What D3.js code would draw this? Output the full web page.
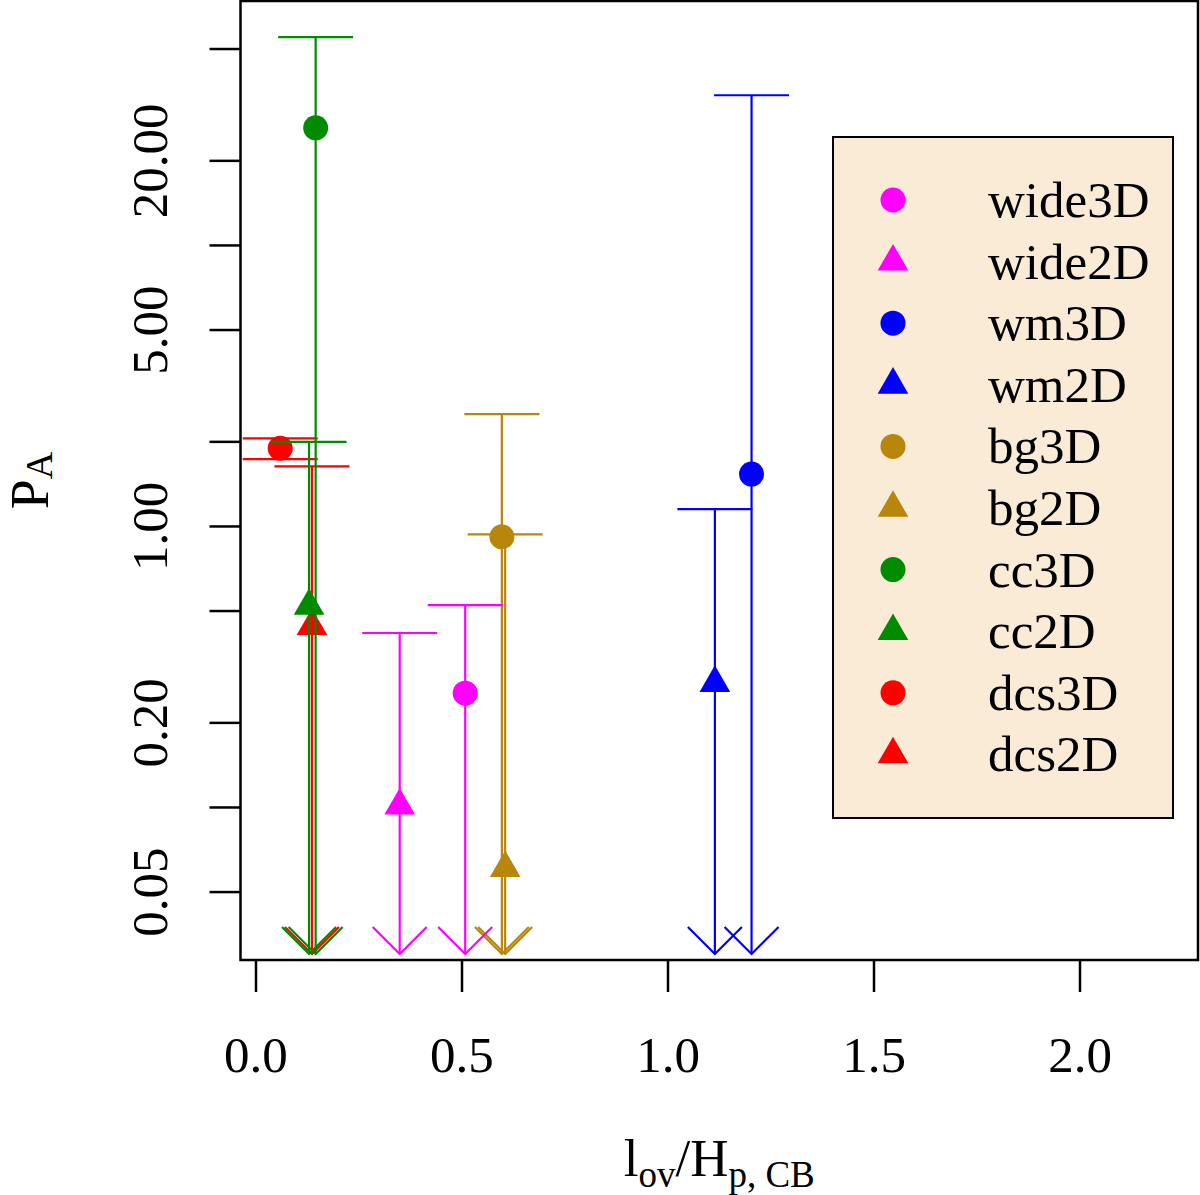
<!DOCTYPE html>
<html>
<head>
<meta charset="utf-8">
<script src="https://cdn.jsdelivr.net/npm/d3@7"></script>
<style>
  html, body { margin: 0; padding: 0; background: #fff; }
  svg { display: block; }
</style>
</head>
<body>
<svg></svg>
<script>
// constants
const WIDTH = 1200;
const HEIGHT = 1195;
const BOX = {left: 240.5, right: 1198, top: 1, bottom: 960};
const FONT = '"Liberation Serif", "Times New Roman", serif';
const FONT_SIZE = 51;

// data
const series = ['wide3D', 'wide2D', 'wm3D', 'wm2D', 'bg3D', 'bg2D', 'cc3D', 'cc2D', 'dcs3D', 'dcs2D'];
const seriesColors = ['#FF00FF', '#FF00FF', '#0000FF', '#0000FF', '#B8860B', '#B8860B', '#008B00', '#008B00', '#FF0000', '#FF0000'];
const shapes = ['circle', 'triangle', 'circle', 'triangle', 'circle', 'triangle', 'circle', 'triangle', 'circle', 'triangle'];
const xValues = [0.509, 0.350, 1.204, 1.115, 0.598, 0.606, 0.146, 0.130, 0.060, 0.137];
const yValues = [0.254, 0.101, 1.53, 0.276, 0.915, 0.0606, 26.1, 0.519, 1.89, 0.440];
const upperValues = [0.523, 0.416, 34.1, 1.148, 2.50, 0.933, 54.9, 1.99, 2.05, 1.63];
const lowerValues = [0.03, 0.03, 0.03, 0.03, 0.03, 0.03, 0.03, 0.03, 1.73, 0.03];
const upperLimit = [true, true, true, true, true, true, true, true, false, true];

const xTicks = [0, 0.5, 1, 1.5, 2];
const yTicks = [0.05, 0.1, 0.2, 0.5, 1, 2, 5, 10, 20, 50];
const yTickLabels = ['0.05', '', '0.20', '', '1.00', '', '5.00', '', '20.00', ''];

//svg
const svg = d3.select('svg')
    .attr('width', WIDTH)
    .attr('height', HEIGHT)
    .style('font-family', FONT);

// scales
const x = d3.scaleLinear()
    .domain([-0.0364, 2.2876])
    .range([BOX.left, BOX.right]);

const y = d3.scaleLog()
    .domain([0.02854, 73.8])
    .range([BOX.bottom, BOX.top]);

// axes
const xAxis = svg.append('g')
    .attr('transform', `translate(0, ${BOX.bottom})`)
    .call(d3.axisBottom(x).tickValues(xTicks).tickFormat(d3.format('.1f')).tickSize(32).tickSizeOuter(0));
xAxis.select('.domain').remove();
xAxis.selectAll('line').attr('stroke', '#000').attr('stroke-width', 2.5);
xAxis.selectAll('text')
    .attr('y', 112)
    .attr('dy', 0)
    .attr('fill', '#000')
    .attr('font-family', FONT)
    .attr('font-size', FONT_SIZE);

const yAxis = svg.append('g')
    .attr('transform', `translate(${BOX.left}, 0)`)
    .call(d3.axisLeft(y).tickValues(yTicks).tickFormat((d, i) => yTickLabels[i]).tickSize(31).tickSizeOuter(0));
yAxis.select('.domain').remove();
yAxis.selectAll('line').attr('stroke', '#000').attr('stroke-width', 2.5);
yAxis.selectAll('text')
    .attr('x', 0)
    .attr('dy', 0)
    .attr('transform', `translate(${167 - BOX.left}, 0) rotate(-90)`)
    .attr('text-anchor', 'middle')
    .attr('fill', '#000')
    .attr('font-family', FONT)
    .attr('font-size', FONT_SIZE);

// error bars and points, drawn last series first
const CAP = 37.5;
const HEAD = 27;
const order = d3.range(series.length).reverse();

const marks = svg.append('g');
order.forEach(i => {
    const g = marks.append('g').attr('stroke', seriesColors[i]).attr('stroke-width', 2.2).attr('fill', 'none');
    const cx = x(xValues[i]);
    const yu = y(upperValues[i]);
    const yl = y(lowerValues[i]);

    g.append('line')
        .attr('x1', cx).attr('x2', cx)
        .attr('y1', yu).attr('y2', yl);
    g.append('line')
        .attr('x1', cx - CAP).attr('x2', cx + CAP)
        .attr('y1', yu).attr('y2', yu);
    if (upperLimit[i]) {
        g.append('polyline')
            .attr('points', `${cx - HEAD},${yl - HEAD} ${cx},${yl} ${cx + HEAD},${yl - HEAD}`);
    } else {
        g.append('line')
            .attr('x1', cx - CAP).attr('x2', cx + CAP)
            .attr('y1', yl).attr('y2', yl);
    }

    marks.append('path')
        .attr('transform', `translate(${cx}, ${y(yValues[i])})`)
        .attr('d', d3.symbol(shapes[i] === 'circle' ? d3.symbolCircle : d3.symbolTriangle, shapes[i] === 'circle' ? 491 : 407)())
        .attr('fill', seriesColors[i]);
});

// box
svg.append('rect')
    .attr('x', BOX.left)
    .attr('y', BOX.top)
    .attr('width', BOX.right - BOX.left)
    .attr('height', BOX.bottom - BOX.top)
    .attr('fill', 'none')
    .attr('stroke', '#000')
    .attr('stroke-width', 2.5);

// axis titles
const xTitle = svg.append('text')
    .attr('x', (BOX.left + BOX.right) / 2)
    .attr('y', 1176)
    .attr('text-anchor', 'middle')
    .attr('font-size', 53);
xTitle.append('tspan').text('l');
xTitle.append('tspan').attr('font-size', 37).attr('dy', 11).text('ov');
xTitle.append('tspan').attr('dy', -11).text('/H');
xTitle.append('tspan').attr('font-size', 37).attr('dy', 11).text('p, CB');

const yTitle = svg.append('text')
    .attr('transform', `translate(48, ${(BOX.top + BOX.bottom) / 2}) rotate(-90)`)
    .attr('text-anchor', 'middle')
    .attr('font-size', 54);
yTitle.append('tspan').text('P');
yTitle.append('tspan').attr('font-size', 38).attr('dy', 4).text('A');

// legend
const LEGEND = {x: 833, y: 137, width: 340, height: 681, rowStart: 200, rowStep: 61.6};
const legend = svg.append('g').attr('id', 'legend');
legend.append('rect')
    .attr('x', LEGEND.x)
    .attr('y', LEGEND.y)
    .attr('width', LEGEND.width)
    .attr('height', LEGEND.height)
    .attr('fill', '#FAEBD7')
    .attr('stroke', '#000')
    .attr('stroke-width', 2);

const items = legend.selectAll('g.item')
    .data(series).join('g')
    .attr('class', 'item')
    .attr('transform', (d, i) => `translate(0, ${LEGEND.rowStart + i * LEGEND.rowStep})`);
items.append('path')
    .attr('transform', 'translate(893, 0)')
    .attr('d', (d, i) => d3.symbol(shapes[i] === 'circle' ? d3.symbolCircle : d3.symbolTriangle, shapes[i] === 'circle' ? 491 : 407)())
    .attr('fill', (d, i) => seriesColors[i]);
items.append('text')
    .attr('x', 988)
    .attr('y', 17)
    .attr('font-size', FONT_SIZE)
    .text(d => d);
</script>
</body>
</html>
